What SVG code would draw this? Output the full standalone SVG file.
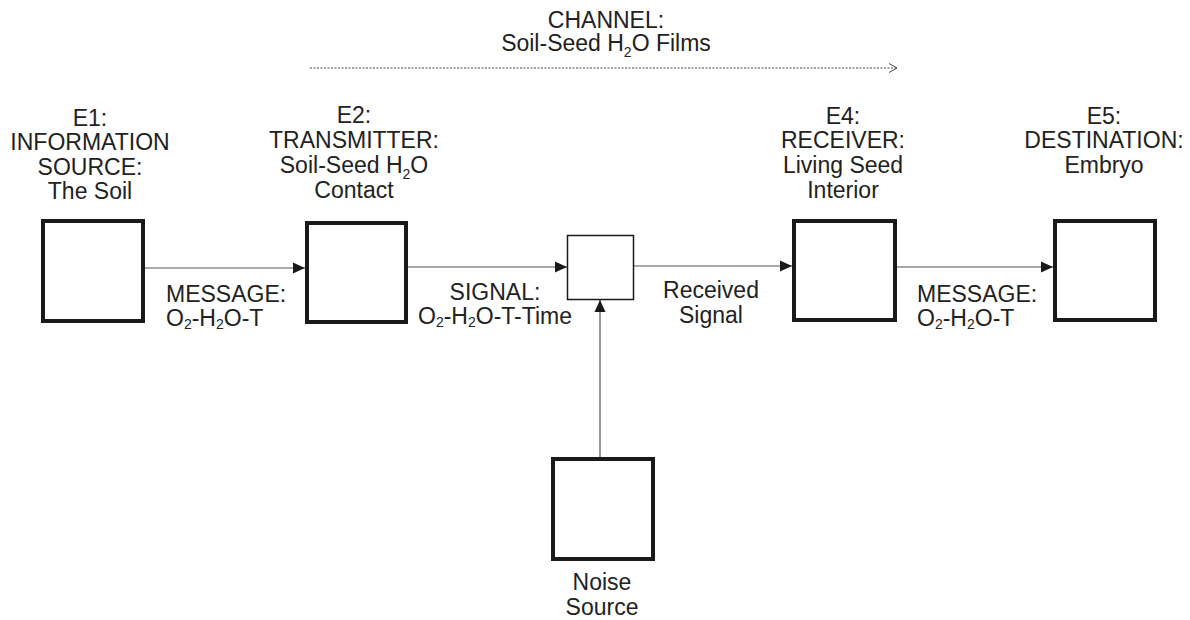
<svg xmlns="http://www.w3.org/2000/svg" width="1190" height="620" viewBox="0 0 1190 620">
<style>
  text { font-family: "Liberation Sans", Arial, sans-serif; font-size: 23px; fill: #222; }
  .c { text-anchor: middle; }
  .box { fill: #fff; stroke: #1a1a1a; stroke-width: 4; }
  .thin { fill: #fff; stroke: #1a1a1a; stroke-width: 1.5; }
  .conn { stroke: #555; stroke-width: 1.2; fill: none; }
  .sub { font-size: 14px; }
</style>
<defs>
  <marker id="arr" markerUnits="userSpaceOnUse" markerWidth="13" markerHeight="13" refX="12" refY="6.5" orient="auto">
    <path d="M0,1 L12,6.5 L0,12 z" fill="#1a1a1a"/>
  </marker>
</defs>

<g id="channel">
  <text class="c" x="606" y="28">CHANNEL:</text>
  <text class="c" x="606" y="51">Soil-Seed H<tspan class="sub" dy="6">2</tspan><tspan dy="-6">O Films</tspan></text>
  <line x1="310" y1="68" x2="896" y2="68" stroke="#444" stroke-width="1" stroke-dasharray="2,1.5"/>
  <polyline points="889,63.5 897,68 889,72.5" fill="none" stroke="#444" stroke-width="1"/>
</g>

<g id="connectors">
  <line class="conn" x1="145" y1="268" x2="305" y2="268" marker-end="url(#arr)"/>
  <line class="conn" x1="408" y1="267" x2="567" y2="267" marker-end="url(#arr)"/>
  <line class="conn" x1="634" y1="266" x2="792" y2="266" marker-end="url(#arr)"/>
  <line class="conn" x1="897" y1="267" x2="1053" y2="267" marker-end="url(#arr)"/>
  <line class="conn" x1="600" y1="457" x2="600" y2="300" marker-end="url(#arr)"/>
  <text x="166" y="302">MESSAGE:</text>
  <text x="166" y="326">O<tspan class="sub" dy="3">2</tspan><tspan dy="-3">-H</tspan><tspan class="sub" dy="3">2</tspan><tspan dy="-3">O-T</tspan></text>
  <text class="c" x="495" y="300">SIGNAL:</text>
  <text class="c" x="495" y="324">O<tspan class="sub" dy="3">2</tspan><tspan dy="-3">-H</tspan><tspan class="sub" dy="3">2</tspan><tspan dy="-3">O-T-Time</tspan></text>
  <text class="c" x="711" y="298">Received</text>
  <text class="c" x="711" y="323">Signal</text>
  <text x="917" y="302">MESSAGE:</text>
  <text x="917" y="326">O<tspan class="sub" dy="3">2</tspan><tspan dy="-3">-H</tspan><tspan class="sub" dy="3">2</tspan><tspan dy="-3">O-T</tspan></text>
</g>

<g id="E1">
  <rect class="box" x="43" y="221" width="100" height="100"/>
  <text class="c" x="90" y="126">E1:</text>
  <text class="c" x="90" y="150">INFORMATION</text>
  <text class="c" x="90" y="175">SOURCE:</text>
  <text class="c" x="90" y="199">The Soil</text>
</g>

<g id="E2">
  <rect class="box" x="307" y="223" width="99" height="99"/>
  <text class="c" x="354" y="123">E2:</text>
  <text class="c" x="354" y="148">TRANSMITTER:</text>
  <text class="c" x="354" y="173">Soil-Seed H<tspan class="sub" dy="6">2</tspan><tspan dy="-6">O</tspan></text>
  <text class="c" x="354" y="198">Contact</text>
</g>

<g id="mixer">
  <rect class="thin" x="567.5" y="235.5" width="66" height="64"/>
</g>

<g id="E4">
  <rect class="box" x="794" y="221" width="101" height="99"/>
  <text class="c" x="843" y="124">E4:</text>
  <text class="c" x="843" y="148">RECEIVER:</text>
  <text class="c" x="843" y="173">Living Seed</text>
  <text class="c" x="843" y="198">Interior</text>
</g>

<g id="E5">
  <rect class="box" x="1055" y="221" width="100" height="99"/>
  <text class="c" x="1104" y="124">E5:</text>
  <text class="c" x="1104" y="148">DESTINATION:</text>
  <text class="c" x="1104" y="173">Embryo</text>
</g>

<g id="noise">
  <rect class="box" x="553" y="459" width="100" height="100"/>
  <text class="c" x="602" y="590">Noise</text>
  <text class="c" x="602" y="615">Source</text>
</g>
</svg>
